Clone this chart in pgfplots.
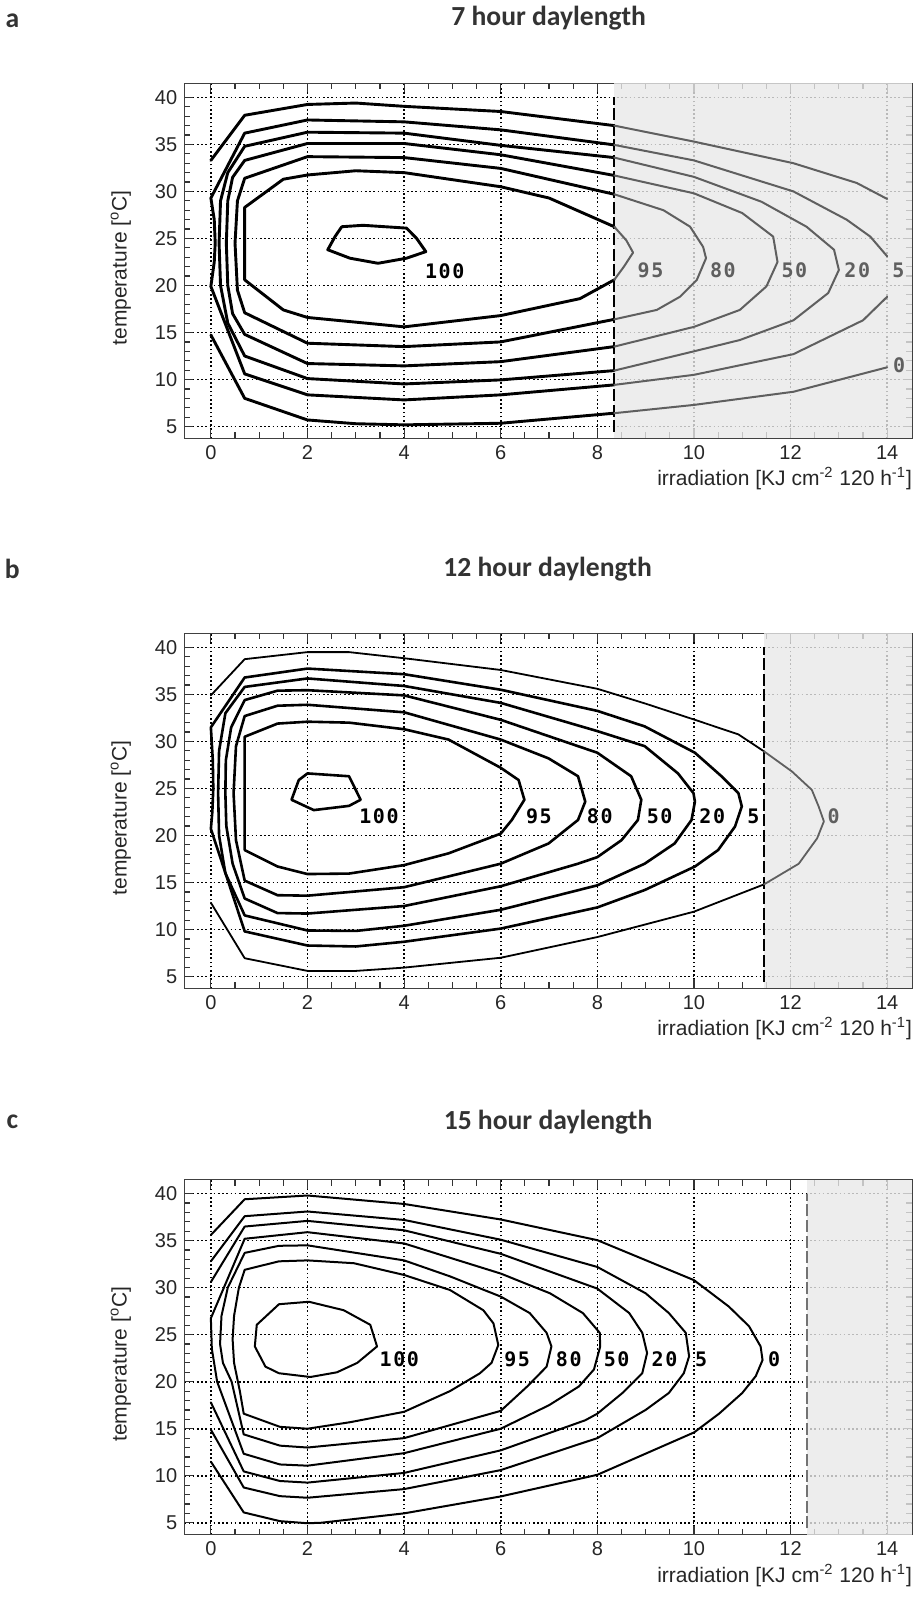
\documentclass[border=0pt]{standalone}
\usepackage{fontspec}
\setmainfont{Liberation Sans}
\newfontfamily\titlefont{Carlito}
\newfontfamily\lblfont[LetterSpace=8]{DejaVu Sans Mono}
\usepackage{pgfplots}
\pgfplotsset{compat=1.18}
\newcommand\ticksize{\fontsize{10}{12}\selectfont}
\newcommand\labsize{\fontsize{10.5}{12}\selectfont}
\newcommand\cfont{\lblfont\bfseries\fontsize{10}{11}\selectfont}
\newcommand\tfont{\titlefont\bfseries\fontsize{13.8}{16}\selectfont}
\definecolor{shade}{RGB}{232,232,232}
\definecolor{cgray}{RGB}{95,95,95}
\pgfplotsset{
  panel/.style={
    scale only axis, width=364pt, height=177.5pt,
    xmin=-0.55, xmax=14.52, ymin=3.75, ymax=41.5,
    xtick={0,2,...,14}, ytick={5,10,...,40},
    minor x tick num=3, minor y tick num=4,
    tick align=inside, tick pos=both,
    major tick length=4.5pt, minor tick length=3pt,
    grid=major,
    major grid style={black, line width=0.8pt, dash pattern=on 0.8pt off 1.3pt},
    axis line style={black!75, line width=0.7pt},
    every tick/.style={black!80, line width=0.6pt},
    tick label style={font=\ticksize, text=black!85},
    /pgf/number format/assume math mode=true,
    xlabel={irradiation [KJ cm\textsuperscript{-2} 120 h\textsuperscript{-1}]},
    ylabel={temperature [\textsuperscript{o}C]},
    xlabel style={at={(axis description cs:1,0)}, anchor=east, yshift=-20.35pt, inner sep=0pt, font=\labsize, text=black!85},
    ylabel style={at={(axis description cs:-0.0872,0.48)}, anchor=center, inner sep=0pt, font=\labsize, text=black!85},
  },
  ca/.style={black, line width=1.45pt, mark=none, line join=round, line cap=round},
  ga/.style={cgray, line width=1.0pt, mark=none, line join=round, line cap=round},
  cb/.style={black, line width=1.3pt, mark=none, line join=round, line cap=round},
  cbt/.style={black, line width=0.9pt, mark=none, line join=round, line cap=round},
  gb/.style={cgray, line width=0.9pt, mark=none, line join=round, line cap=round},
  cc/.style={black, line width=1.0pt, mark=none, line join=round, line cap=round},
  shadefill/.style={fill=shade, fill opacity=0.8, draw=none, mark=none},
}
\begin{document}
\begin{tikzpicture}
\path[use as bounding box] (0pt,0pt) rectangle (458.5pt,-802pt);

% ---------------- panel a ----------------
\node[font=\tfont, text=black!80] at (274.3pt,-9.2pt) {7 hour daylength};
\node[font=\tfont, text=black!80] at (6.2pt,-10.25pt) {a};
\begin{axis}[panel, at={(92.15pt,-41.65pt)}, anchor=north west]
\addplot[shadefill] coordinates {(8.35,3.75) (14.52,3.75) (14.52,41.5) (8.35,41.5)} -- cycle;
\addplot[black, line width=1.2pt, dash pattern=on 6pt off 1.8pt, mark=none] coordinates {(8.35,4.4) (8.35,40)};
% 0
\addplot[ca] coordinates {(0,14.74) (0.7,8.0) (2,5.7) (3,5.3) (4,5.18) (6,5.35) (8.35,6.42)};
\addplot[ga] coordinates {(8.35,6.42) (10,7.3) (12.06,8.7) (14,11.3)};
\addplot[ca] coordinates {(0,33.3) (0.7,38.1) (2,39.25) (3,39.4) (4,39.05) (6,38.5) (8.35,37.0)};
\addplot[ga] coordinates {(8.35,37.0) (10,35.3) (12.06,33.0) (13.37,30.9) (14,29.2)};
% 5
\addplot[ca] coordinates {(8.35,9.43) (6,8.37) (4,7.83) (2,8.37) (0.7,10.6) (0,19.9) (0.07,22.5) (0.09,24.5) (0.07,27) (0,29.3) (0.7,36.2) (2,37.6) (4,37.4) (6,36.55) (8.35,34.95)};
\addplot[ga] coordinates {(8.35,34.95) (10,33.3) (12.06,30.0) (13.16,27.0) (13.65,25.2) (14,23.1)};
\addplot[ga] coordinates {(8.35,9.43) (10,10.5) (12.06,12.7) (13.5,16.3) (14,18.8)};
% 20
\addplot[ca] coordinates {(8.35,10.95) (6,9.96) (4,9.53) (2,10.1) (0.7,12.5) (0.35,16) (0.2,20) (0.17,24.5) (0.2,29) (0.35,32) (0.7,34.8) (2,36.3) (4,36.2) (6,34.9) (8.35,33.6)};
\addplot[ga] coordinates {(8.35,33.6) (10,31.55) (11.4,28.9) (12.33,26.25) (12.9,23.8) (13.0,21.65) (12.78,19.2) (12.06,16.3) (10.95,14.2) (10,13.0) (8.35,10.95)};
% 50
\addplot[ca] coordinates {(8.35,13.5) (6,11.9) (4,11.45) (2,11.7) (0.7,14.8) (0.45,17) (0.35,20) (0.32,24.5) (0.35,29) (0.45,31.5) (0.7,33.3) (2,35.1) (4,35.1) (6,33.9) (8.35,31.7)};
\addplot[ga] coordinates {(8.35,31.7) (10,29.8) (11.0,27.7) (11.64,25.2) (11.73,22.5) (11.5,19.9) (10.95,17.4) (10,15.6) (8.35,13.5)};
% 80
\addplot[ca] coordinates {(8.35,16.4) (6,14.0) (4,13.5) (2,13.86) (0.7,17.1) (0.55,19.5) (0.5,24.5) (0.55,29) (0.7,31.4) (2,33.7) (4,33.6) (6,32.45) (8.35,29.7)};
\addplot[ga] coordinates {(8.35,29.7) (9.37,28.0) (9.92,26.25) (10.19,24.1) (10.25,22.9) (10.06,20.6) (9.71,18.8) (9.23,17.4) (8.35,16.4)};
% 95
\addplot[ca] coordinates {(8.35,20.6) (7.64,18.6) (6,16.8) (4,15.6) (2,16.6) (1.5,17.4) (0.7,20.6) (0.7,28.3) (1.5,31.3) (2,31.75) (3,32.2) (4,32.0) (6,30.5) (7,29.3) (8.35,26.25)};
\addplot[ga] coordinates {(8.35,26.25) (8.6,24.8) (8.74,23.5) (8.55,22.0) (8.35,20.6)};
% 100
\addplot[ca] coordinates {(2.71,26.25) (3.15,26.4) (4.05,26.1) (4.26,25.0) (4.45,23.6) (4.05,22.9) (3.46,22.36) (2.88,22.9) (2.42,23.8) (2.57,25.2) (2.71,26.25)};
\node[font=\cfont, text=black] at (axis cs:4.84,21.5) {100};
\node[font=\cfont, text=cgray] at (axis cs:9.1,21.65) {95};
\node[font=\cfont, text=cgray] at (axis cs:10.6,21.65) {80};
\node[font=\cfont, text=cgray] at (axis cs:12.08,21.65) {50};
\node[font=\cfont, text=cgray] at (axis cs:13.38,21.65) {20};
\node[font=\cfont, text=cgray] at (axis cs:14.23,21.65) {5};
\node[font=\cfont, text=cgray] at (axis cs:14.25,11.5) {0};
\end{axis}

% ---------------- panel b ----------------
\node[font=\tfont, text=black!80] at (273.8pt,-284.5pt) {12 hour daylength};
\node[font=\tfont, text=black!80] at (6.2pt,-284.5pt) {b};
\begin{axis}[panel, at={(92.15pt,-316.65pt)}, anchor=north west]
\addplot[shadefill] coordinates {(11.45,3.75) (14.52,3.75) (14.52,41.5) (11.45,41.5)} -- cycle;
\addplot[black, line width=1.2pt, dash pattern=on 6pt off 1.8pt, mark=none] coordinates {(11.45,4.4) (11.45,40)};
% 0
\addplot[cbt] coordinates {(11.45,14.8) (10,11.9) (8,9.2) (6,7.0) (4,5.95) (3,5.6) (2,5.6) (0.7,6.95) (0,12.85)};
\addplot[cbt] coordinates {(0,34.9) (0.7,38.75) (2,39.5) (2.86,39.5) (4,38.85) (6,37.6) (8,35.6) (8.98,34.05) (10.02,32.3) (10.92,30.75) (11.45,28.95)};
\addplot[gb] coordinates {(11.45,28.95) (12.03,26.8) (12.44,24.85) (12.58,23.1) (12.69,21.5) (12.55,19.7) (12.17,17.0) (11.45,14.8)};
% 5
\addplot[cb] coordinates {(0,20.7) (0.7,9.8) (2,8.3) (3,8.2) (4,8.7) (6,10.1) (8,12.35) (8.98,14.2) (10.02,16.7) (10.5,18.45) (10.85,20.95) (10.99,23.1) (10.92,24.5) (10.57,26.3) (10.02,28.8) (8.98,31.6) (8,33.25) (6,35.5) (4,37.15) (2,37.75) (0.7,36.8) (0,31.5) (0.04,28) (0.05,25) (0.03,22.5) (0,20.7)};
% 20
\addplot[cb] coordinates {(0.7,11.5) (2,9.9) (3,9.85) (4,10.4) (6,12.1) (8,14.7) (8.98,17.0) (9.6,19.15) (9.95,21.65) (10.02,23.6) (9.99,24.5) (9.67,26.6) (8.98,29.5) (8,31.1) (6,34.1) (4,35.9) (2,36.7) (0.7,35.8) (0.3,33) (0.17,29) (0.15,24.5) (0.17,20) (0.3,16) (0.7,11.5)};
% 50
\addplot[cb] coordinates {(0.7,13.3) (1.38,11.75) (2,11.7) (4,12.5) (6,14.6) (7.6,17.0) (8,17.7) (8.5,19.5) (8.84,21.65) (8.91,23.8) (8.7,26.3) (8,28.8) (6,32.3) (4,34.9) (2,35.45) (1.38,35.4) (0.7,34.4) (0.42,31.5) (0.31,28) (0.3,24.5) (0.32,21) (0.45,17) (0.7,13.3)};
% 80
\addplot[cb] coordinates {(0.7,15.2) (1.38,13.65) (2,13.6) (4,14.5) (6,17.0) (6.99,19.15) (7.6,21.65) (7.75,23.6) (7.6,26.3) (6.99,28.2) (6,30.2) (4,33.1) (2,33.9) (1.38,33.8) (0.7,32.7) (0.52,29.5) (0.47,24.5) (0.52,19.5) (0.7,15.2)};
% 95
\addplot[cb] coordinates {(0.7,18.45) (1.38,16.7) (2,15.9) (2.86,15.95) (4,16.85) (4.92,18.1) (6,20.2) (6.23,21.65) (6.49,23.8) (6.37,25.9) (6.0,27.2) (4.92,30.2) (4,31.3) (2.86,32.0) (2,32.1) (1.38,31.9) (0.7,30.5) (0.7,18.45)};
% 100
\addplot[cb] coordinates {(1.82,25.9) (2.0,26.6) (2.86,26.3) (3.1,23.8) (2.86,23.15) (2.13,22.7) (1.67,23.8) (1.82,25.9)};
\node[font=\cfont, text=black] at (axis cs:3.48,22.0) {100};
\node[font=\cfont, text=black] at (axis cs:6.79,22.0) {95};
\node[font=\cfont, text=black] at (axis cs:8.05,22.0) {80};
\node[font=\cfont, text=black] at (axis cs:9.29,22.0) {50};
\node[font=\cfont, text=black] at (axis cs:10.38,22.0) {20};
\node[font=\cfont, text=black] at (axis cs:11.23,22.0) {5};
\node[font=\cfont, text=cgray] at (axis cs:12.89,22.0) {0};
\end{axis}

% ---------------- panel c ----------------
\node[font=\tfont, text=black!80] at (274pt,-561pt) {15 hour daylength};
\node[font=\tfont, text=black!80] at (6.2pt,-561pt) {c};
\begin{axis}[panel, at={(92.15pt,-589.75pt)}, anchor=north west]
\addplot[shadefill] coordinates {(12.35,3.75) (14.52,3.75) (14.52,41.5) (12.35,41.5)} -- cycle;
\addplot[black!55, line width=1.0pt, dash pattern=on 6pt off 1.8pt, mark=none] coordinates {(12.35,4.4) (12.35,40)};
% 0
\addplot[cc] coordinates {(0,11.5) (0.68,6.1) (1.43,5.17) (2,4.95) (2.28,5.0) (4,6.0) (6,7.8) (8,10.1) (10,14.6) (10.52,16.6) (11.0,18.8) (11.28,20.6) (11.42,22.3) (11.38,23.75) (11.14,25.9) (10.72,28.0) (10,30.8) (8,35.05) (6,37.25) (4,38.9) (2,39.8) (0.7,39.4) (0,35.6)};
% 5
\addplot[cc] coordinates {(0,14.9) (0.68,8.75) (1.43,7.83) (2,7.66) (4,8.58) (6,10.6) (8,14.0) (9.0,17.0) (9.48,18.8) (9.79,20.9) (9.9,22.7) (9.83,25.2) (9.48,27.3) (9.0,29.4) (8,32.2) (6,35.1) (4,37.2) (2,38.1) (0.7,37.6) (0,32.8)};
% 20
\addplot[cc] coordinates {(0,17.8) (0.68,10.46) (1.43,9.44) (2,9.27) (4,10.3) (6,12.7) (7.75,15.9) (8,16.6) (8.52,18.8) (8.93,20.9) (9.03,23.05) (8.93,25.2) (8.66,27.3) (8,29.9) (6,33.6) (4,36.1) (2,37.1) (0.7,36.5) (0,30.6)};
% 50
\addplot[cc] coordinates {(0,26.75) (0.02,23.5) (0.13,20) (0.68,12.34) (1.43,11.2) (2,11.07) (4,12.4) (6,15.0) (7.0,17.5) (7.62,19.5) (7.93,21.3) (8.06,23.75) (8.05,25.2) (7.7,27.3) (7.02,29.4) (6,31.5) (4,34.7) (2,35.9) (0.7,35.2) (0,26.75)};
% 80
\addplot[cc] coordinates {(0.7,33.7) (0.35,30) (0.22,27) (0.19,24) (0.25,22) (0.43,20) (0.68,14.4) (1.43,13.2) (2,13.0) (4,14.0) (6,16.9) (6.55,19.5) (6.95,21.6) (7.05,23.75) (6.95,25.2) (6.6,27.3) (6,29.05) (4.95,31.2) (4,32.9) (2,34.5) (1.41,34.45) (0.7,33.7)};
% 95
\addplot[cc] coordinates {(0.7,31.9) (1.41,32.8) (2,32.9) (2.96,32.6) (4,31.35) (4.95,29.75) (5.64,27.6) (5.85,26.2) (5.95,23.9) (5.81,22.0) (5.57,20.9) (4.95,19.0) (4,16.8) (2.89,15.7) (2,15.0) (1.43,15.2) (0.68,16.6) (0.6,19) (0.48,22) (0.45,24.5) (0.48,27) (0.58,30) (0.7,31.9)};
% 100
\addplot[cc] coordinates {(1.41,28.24) (2.03,28.5) (2.75,27.6) (3.3,26.05) (3.44,23.75) (3.03,22.0) (2.61,21.0) (2.06,20.5) (1.41,20.9) (1.13,21.6) (0.91,23.75) (0.95,26.05) (1.41,28.24)};
\node[font=\cfont, text=black] at (axis cs:3.9,22.4) {100};
\node[font=\cfont, text=black] at (axis cs:6.34,22.4) {95};
\node[font=\cfont, text=black] at (axis cs:7.41,22.4) {80};
\node[font=\cfont, text=black] at (axis cs:8.4,22.4) {50};
\node[font=\cfont, text=black] at (axis cs:9.39,22.4) {20};
\node[font=\cfont, text=black] at (axis cs:10.15,22.4) {5};
\node[font=\cfont, text=black] at (axis cs:11.66,22.4) {0};
\end{axis}
\end{tikzpicture}
\end{document}
